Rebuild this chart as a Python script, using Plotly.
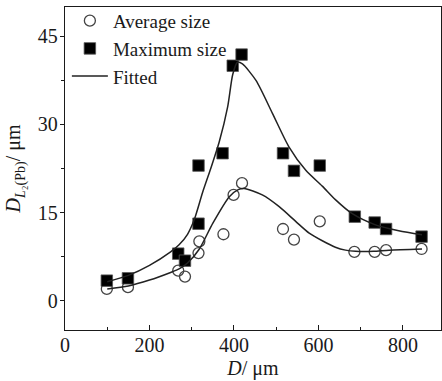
import plotly.graph_objects as go

# Measured points
d_avg = [99, 149, 268, 284, 316, 318, 375, 399, 419, 516, 542, 603, 685, 733, 760, 844]
avg_size = [2.0, 2.3, 5.1, 4.1, 8.1, 10.1, 11.3, 18.0, 20.0, 12.2, 10.4, 13.5, 8.3, 8.3, 8.6, 8.8]

d_max = [99, 149, 268, 284, 316, 316, 373, 397, 418, 516, 542, 603, 686, 733, 760, 844]
max_size = [3.4, 3.8, 8.0, 6.8, 13.1, 23.0, 25.1, 40.0, 41.9, 25.1, 22.1, 23.0, 14.3, 13.3, 12.2, 10.9]

# Fitted curves
fit_max_x = [100, 150, 200, 250, 270, 290, 306, 326, 345, 365, 385, 397, 408, 420, 452, 491, 530, 570, 609, 640, 680, 735, 790, 845]
fit_max_y = [3.2, 4.3, 6.0, 8.3, 9.5, 11.3, 13.8, 18.5, 22.5, 27.0, 33.0, 38.5, 40.6, 40.3, 37.5, 31.9, 26.2, 22.2, 19.5, 17.2, 14.8, 12.9, 11.9, 11.2]

fit_avg_x = [100, 150, 200, 250, 270, 290, 318, 350, 389, 410, 424, 467, 507, 546, 578, 609, 640, 664, 688, 730, 767, 845]
fit_avg_y = [2.0, 2.5, 3.5, 4.8, 5.4, 6.4, 8.8, 13.2, 17.7, 18.9, 19.1, 18.0, 16.0, 13.5, 11.5, 10.2, 9.1, 8.6, 8.4, 8.4, 8.6, 8.8]

x_ticks = [0, 200, 400, 600, 800]
y_ticks = [0, 15, 30, 45]

FONT = "Times New Roman, Liberation Serif, DejaVu Serif, serif"
INK = "#1a1a1a"
FS = 20

fig = go.Figure()
fig.add_trace(go.Scatter(
    x=d_avg, y=avg_size, mode="markers", name="Average size",
    marker=dict(symbol="circle-open", size=11, color="#444444", line=dict(width=1.3, color="#444444")),
))
fig.add_trace(go.Scatter(
    x=d_max, y=max_size, mode="markers", name="Maximum size",
    marker=dict(symbol="square", size=11.5, color="#000000", line=dict(width=0.8, color="#555555")),
))
fig.add_trace(go.Scatter(
    x=fit_max_x, y=fit_max_y, mode="lines", name="Fitted",
    line=dict(color="#222222", width=1.5, shape="spline", smoothing=0.7),
))
fig.add_trace(go.Scatter(
    x=fit_avg_x, y=fit_avg_y, mode="lines", name="Fitted", showlegend=False,
    line=dict(color="#222222", width=1.5, shape="spline", smoothing=0.7),
))

fig.update_layout(
    width=442, height=381,
    margin=dict(l=65, r=1, t=7, b=51),
    paper_bgcolor="white", plot_bgcolor="white",
    font=dict(family=FONT, size=FS, color=INK),
    showlegend=True,
    legend=dict(x=0.005, y=1.016, xanchor="left", yanchor="top",
                bgcolor="rgba(0,0,0,0)", font=dict(family=FONT, size=19, color=INK),
                tracegroupgap=0, itemwidth=36),
)
fig.update_xaxes(
    range=[0, 890], tickmode="array", tickvals=x_ticks, ticktext=[str(v) for v in x_ticks],
    ticks="inside", ticklen=5, tickwidth=1.2, tickcolor=INK,
    minor=dict(ticks="inside", ticklen=3, tickwidth=1.2, tickcolor=INK, dtick=100, tick0=0),
    showline=True, linecolor=INK, linewidth=1.3, mirror=True, showgrid=False, zeroline=False,
    automargin=False, ticklabelstandoff=-3,
    title=dict(text="<i>D</i>/ μm", standoff=5, font=dict(family=FONT, size=FS, color=INK)),
    tickfont=dict(family=FONT, size=FS, color=INK),
)
fig.update_yaxes(
    range=[-5, 50], tickmode="array", tickvals=y_ticks, ticktext=[str(v) for v in y_ticks],
    ticks="outside", ticklen=4, tickwidth=1.2, tickcolor=INK,
    minor=dict(ticks="outside", ticklen=3, tickwidth=1.2, tickcolor=INK, dtick=7.5, tick0=0),
    showline=True, linecolor=INK, linewidth=1.3, mirror=True, showgrid=False, zeroline=False,
    automargin=False, ticklabelstandoff=-2,
    title=dict(text="<i>D</i><sub><i>L</i>₂(Pb)</sub>/ μm", standoff=11, font=dict(family=FONT, size=FS, color=INK)),
    tickfont=dict(family=FONT, size=FS, color=INK),
)

fig.write_html("out.html", config={"displayModeBar": False},
               post_script="document.body.style.margin='0px';document.body.style.overflow='hidden';")
